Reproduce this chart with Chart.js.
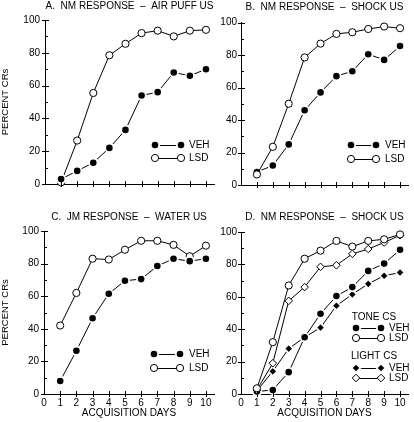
<!DOCTYPE html>
<html>
<head>
<meta charset="utf-8">
<script src="https://cdn.jsdelivr.net/npm/chart.js@4.4.1/dist/chart.umd.min.js"></script>
<style>
  html, body { margin: 0; padding: 0; background: #fff; }
  #wrap { position: relative; width: 414px; height: 422px; overflow: hidden; }
  #wrap canvas { position: absolute; }
</style>
</head>
<body>
<div id="wrap">
  <canvas id="chartA" style="left:0;top:0"></canvas>
  <canvas id="chartB" style="left:200px;top:0"></canvas>
  <canvas id="chartC" style="left:0;top:200px"></canvas>
  <canvas id="chartD" style="left:200px;top:200px"></canvas>
</div>
<script>
// ── data (percent CRs per acquisition day)
const days = [1, 2, 3, 4, 5, 6, 7, 8, 9, 10];
const xTickValues = [0, 1, 2, 3, 4, 5, 6, 7, 8, 9, 10];
const yTickValues = [0, 20, 40, 60, 80, 100];

const titles = [
  'A.  NM RESPONSE  –  AIR PUFF US',
  'B.  NM RESPONSE  –  SHOCK US',
  'C.  JM RESPONSE  –  WATER US',
  'D.  NM RESPONSE  –  SHOCK US',
];

const airPuffVeh = [3, 8, 13, 22, 33, 54, 56, 68, 66, 70];
const airPuffLsd = [1, 26.5, 55.5, 78.5, 85.5, 92, 93.5, 90, 93.5, 94];

const shockVeh = [8, 12, 25, 46, 57, 67, 70, 80.5, 77, 85.5];
const shockLsd = [6.5, 23.5, 50, 78.5, 87, 93, 94, 96, 97.5, 96.5];

const waterVeh = [8, 26.5, 46.5, 61.5, 69.5, 70.5, 78.5, 83, 81.5, 83];
const waterLsd = [42, 62, 83, 82.5, 88.5, 94, 94, 91.5, 84.5, 91];

const toneVeh  = [1.5, 2.5, 13.5, 35, 49.5, 60.5, 66, 76, 80.5, 89];
const toneLsd  = [3.5, 32, 67, 83.5, 88.5, 94.5, 91, 94.5, 95.5, 98.5];
const lightVeh = [2, 14, 28, 35, 41, 54.5, 61.5, 68, 73, 75];
const lightLsd = [2.5, 19, 57.5, 66, 78.5, 79.5, 86.5, 89.5, 93.5, 98];

// ── marker styles
const INK = '#000';
const MARK = {
  dot:      { pointStyle: 'circle',  radius: 4.2, fill: INK,    stroke: '#fff', width: 1.8 },
  ring:     { pointStyle: 'circle',  radius: 3.6, fill: '#fff', stroke: INK,    width: 1 },
  diamond:  { pointStyle: 'rectRot', radius: 4.4, fill: INK,    stroke: '#fff', width: 1.6 },
  odiamond: { pointStyle: 'rectRot', radius: 3.8, fill: '#fff', stroke: INK,    width: 1 },
};

function series(values, mark, order) {
  const m = MARK[mark];
  return {
    data: values.map((v, i) => ({ x: days[i], y: v })),
    borderColor: INK,
    borderWidth: 1,
    tension: 0,
    pointStyle: m.pointStyle,
    pointRadius: m.radius,
    pointBackgroundColor: m.fill,
    pointBorderColor: m.stroke,
    pointBorderWidth: m.width,
    clip: false,
    order: order,
  };
}

// ── ticks drawn across the axis lines (major + minor)
const crossTicks = {
  id: 'crossTicks',
  afterDraw(chart) {
    const { ctx, chartArea, scales } = chart;
    const x = scales.x, y = scales.y;
    ctx.save();
    ctx.strokeStyle = INK;
    ctx.lineWidth = 1;
    ctx.beginPath();
    days.forEach(d => {
      const px = Math.round(x.getPixelForValue(d)) + 0.5;
      ctx.moveTo(px, chartArea.bottom - 3);
      ctx.lineTo(px, chartArea.bottom + 3);
    });
    for (let v = 0; v <= 100; v += 10) {
      const py = Math.round(y.getPixelForValue(v)) + 0.5;
      const major = v % 20 === 0;
      ctx.moveTo(chartArea.left - (major ? 3 : 0), py);
      ctx.lineTo(chartArea.left + (major ? 4 : 3), py);
    }
    ctx.stroke();
    ctx.restore();
  },
};

// ── key box: line with a marker at each end, then label
const keyBox = {
  id: 'keyBox',
  afterDraw(chart, args, opts) {
    if (!opts.rows) return;
    const ctx = chart.ctx;
    ctx.save();
    ctx.font = '10px "Liberation Sans", Arial, sans-serif';
    ctx.textBaseline = 'middle';
    opts.rows.forEach(r => {
      ctx.fillStyle = INK;
      if (r.head) {
        ctx.textAlign = 'center';
        ctx.fillText(r.head, r.x, r.y);
        return;
      }
      const m = MARK[r.mark];
      ctx.strokeStyle = INK;
      ctx.lineWidth = 1;
      ctx.beginPath();
      ctx.moveTo(r.x1, r.y + 0.5);
      ctx.lineTo(r.x2, r.y + 0.5);
      ctx.stroke();
      [r.x1, r.x2].forEach(px => {
        ctx.fillStyle = m.fill;
        ctx.strokeStyle = m.stroke;
        ctx.lineWidth = m.width;
        Chart.helpers.drawPoint(ctx, { pointStyle: m.pointStyle, radius: m.radius, rotation: 0, borderWidth: m.width }, px, r.y);
      });
      ctx.fillStyle = INK;
      ctx.textAlign = 'left';
      ctx.fillText(r.text, r.tx, r.y + 0.5);
    });
    ctx.restore();
  },
};

Chart.defaults.font.family = '"Liberation Sans", Arial, sans-serif';
Chart.defaults.font.size = 10;
Chart.defaults.color = INK;

function makePanel(id, w, h, cfg) {
  const el = document.getElementById(id);
  el.width = w; el.height = h;
  el.style.width = w + 'px'; el.style.height = h + 'px';
  return new Chart(el, {
    type: 'line',
    data: { datasets: cfg.datasets },
    plugins: [crossTicks, keyBox],
    options: {
      responsive: false,
      animation: false,
      events: [],
      layout: { padding: { left: 0, right: cfg.padRight, top: 0, bottom: 0 } },
      scales: {
        x: {
          type: 'linear',
          min: 0,
          max: 10.5,
          afterFit: s => { s.height = cfg.xHeight; },
          afterBuildTicks: s => { s.ticks = xTickValues.map(v => ({ value: v })); },
          border: { color: INK, width: 1 },
          grid: { display: false, drawTicks: false },
          ticks: {
            display: cfg.xLabels,
            padding: 3,
            autoSkip: false,
            maxRotation: 0,
            font: { size: 10 },
            callback: v => String(v),
          },
          title: {
            display: cfg.xLabels,
            text: 'ACQUISITION DAYS',
            font: { size: 10 },
            padding: { top: 0, bottom: 3 },
          },
        },
        y: {
          min: 0,
          max: 100,
          afterFit: s => { s.width = cfg.yWidth; },
          afterBuildTicks: s => { s.ticks = yTickValues.map(v => ({ value: v })); },
          border: { color: INK, width: 1 },
          grid: { display: false, drawTicks: false },
          ticks: { padding: cfg.yPad, font: { size: 10 } },
          title: {
            display: cfg.yTitle,
            text: 'PERCENT CRs',
            font: { size: 9.5 },
            padding: { top: 0, bottom: 0 },
          },
        },
      },
      plugins: {
        legend: { display: false },
        tooltip: { enabled: false },
        title: {
          display: true,
          text: cfg.title,
          fullSize: false,
          font: { size: 10, weight: 'normal', lineHeight: 1.2 },
          padding: cfg.titlePad,
        },
        keyBox: { rows: cfg.key },
      },
    },
  });
}

// ── Panel A
makePanel('chartA', 220, 200, {
  title: titles[0], titlePad: { top: 0, bottom: 8 },
  padRight: 3, xHeight: 16, yWidth: 45, yPad: 5, xLabels: false, yTitle: true,
  datasets: [series(airPuffLsd, 'ring', 2), series(airPuffVeh, 'dot', 1)],
  key: [
    { mark: 'dot',  x1: 155, x2: 181, tx: 189, y: 145, text: 'VEH' },
    { mark: 'ring', x1: 155, x2: 181, tx: 189, y: 158, text: 'LSD' },
  ],
});

// ── Panel B
makePanel('chartB', 214, 200, {
  title: titles[1], titlePad: { top: 1, bottom: 9.5 },
  padRight: 1, xHeight: 15, yWidth: 41, yPad: 4, xLabels: false, yTitle: false,
  datasets: [series(shockLsd, 'ring', 1), series(shockVeh, 'dot', 2)],
  key: [
    { mark: 'dot',  x1: 151, x2: 176, tx: 185, y: 145, text: 'VEH' },
    { mark: 'ring', x1: 151, x2: 176, tx: 185, y: 159, text: 'LSD' },
  ],
});

// ── Panel C
makePanel('chartC', 220, 222, {
  title: titles[2], titlePad: { top: 11, bottom: 8 },
  padRight: 3, xHeight: 28, yWidth: 44, yPad: 5, xLabels: true, yTitle: true,
  datasets: [series(waterLsd, 'ring', 2), series(waterVeh, 'dot', 1)],
  key: [
    { mark: 'dot',  x1: 154, x2: 180, tx: 189, y: 154, text: 'VEH' },
    { mark: 'ring', x1: 154, x2: 180, tx: 189, y: 168, text: 'LSD' },
  ],
});

// ── Panel D
makePanel('chartD', 214, 222, {
  title: titles[3], titlePad: { top: 11, bottom: 9 },
  padRight: 1, xHeight: 28, yWidth: 41, yPad: 4, xLabels: true, yTitle: false,
  datasets: [
    series(toneLsd, 'ring', 1),
    series(lightLsd, 'odiamond', 2),
    series(toneVeh, 'dot', 3),
    series(lightVeh, 'diamond', 4),
  ],
  key: [
    { head: 'TONE CS', x: 174, y: 117 },
    { mark: 'dot',      x1: 156, x2: 181, tx: 189, y: 128, text: 'VEH' },
    { mark: 'ring',     x1: 156, x2: 181, tx: 189, y: 138, text: 'LSD' },
    { head: 'LIGHT CS', x: 174, y: 156 },
    { mark: 'diamond',  x1: 156, x2: 181, tx: 189, y: 168, text: 'VEH' },
    { mark: 'odiamond', x1: 156, x2: 181, tx: 189, y: 178, text: 'LSD' },
  ],
});
</script>
</body>
</html>
